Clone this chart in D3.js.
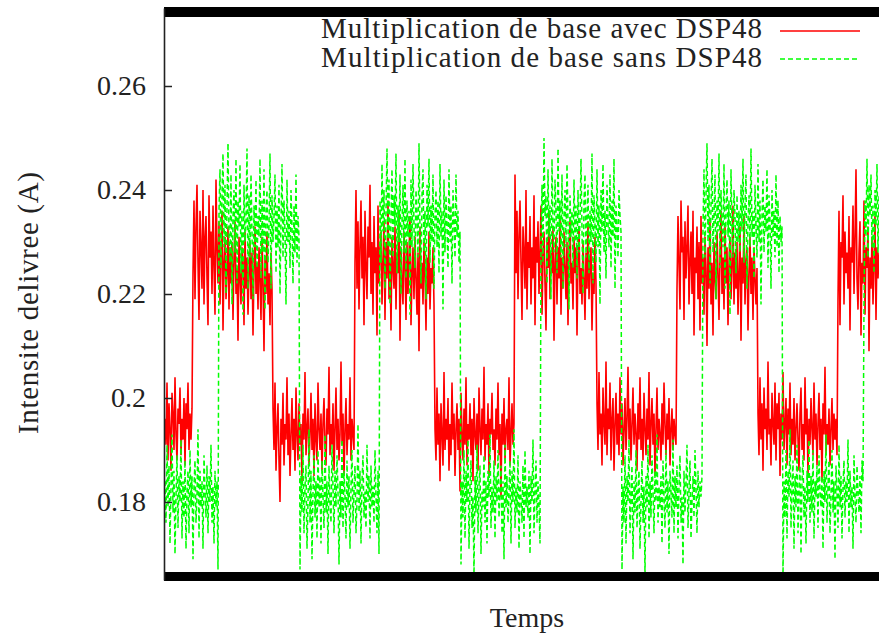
<!DOCTYPE html>
<html><head><meta charset="utf-8">
<script src="https://cdn.jsdelivr.net/npm/d3@7/dist/d3.min.js"></script>
<style>body{margin:0;background:#fff}svg{display:block}</style>
</head><body>
<svg id="chart" width="879" height="637"></svg>
<script>
// ---- data (current in mA, one value per sample) ----
const seriesNames = ["Multiplication de base avec DSP48", "Multiplication de base sans DSP48"];
const xLabel = "Temps";
const yLabel = "Intensite delivree (A)";
const yTickValues = [0.18, 0.2, 0.22, 0.24, 0.26];

const avecDSP48 = [
196,191,203,188,199,194,186,201,197,190,204,193,188,198,195,202,189,196,192,200,
187,199,194,203,190,197,192,198,
224,238,219,233,241,226,215,236,229,221,240,218,231,235,223,214,239,227,232,220,
237,225,216,242,229,222,234,218,228,236,213,226,231,219,224,233,217,229,222,230,
215,227,234,220,225,211,231,223,218,229,226,214,232,221,227,216,224,230,219,228,
212,225,233,220,226,217,229,223,215,231,222,209,227,220,232,218,224,214,228,221,
198,190,203,186,194,199,188,180,196,191,201,187,195,192,204,189,197,185,193,200,
190,196,186,202,193,188,199,191,195,184,197,192,205,189,194,198,187,193,201,190,
196,185,199,192,188,203,194,190,197,186,195,200,191,187,198,193,206,189,195,191,
199,186,194,202,190,196,188,193,207,191,197,185,194,200,189,195,192,204,188,196,
193,190,
226,240,221,234,217,229,238,223,231,214,236,225,219,233,227,241,220,230,216,235,
224,229,212,237,222,228,232,218,226,234,215,230,223,238,219,227,213,231,225,221,
233,217,228,224,236,211,229,222,218,232,226,215,230,220,227,235,214,224,229,219,
231,223,216,228,209,233,221,226,218,230,224,213,227,220,232,217,225,222,229,218,
194,188,202,191,197,184,199,193,187,205,190,196,192,200,186,195,189,203,192,197,
185,194,199,190,196,182,201,193,188,198,191,204,187,195,192,199,189,196,184,200,
193,190,197,186,202,194,189,198,192,206,188,195,191,199,185,196,193,201,190,194,
187,198,192,203,189,195,181,197,191,200,188,194,196,190,204,187,193,199,191,195,
243,224,236,219,231,238,226,215,233,228,221,240,217,230,225,235,218,229,223,239,
214,231,226,234,220,228,237,216,227,232,222,213,230,225,236,219,228,224,233,211,
226,231,218,229,223,235,216,227,221,232,225,219,230,214,228,234,222,226,217,231,
224,229,212,227,233,220,225,218,230,223,215,228,221,234,219,226,229,213,224,220,
231,222,
199,190,205,193,197,187,202,195,191,207,189,198,194,203,188,196,200,186,195,201,
191,197,189,204,193,199,187,194,200,190,196,206,192,198,188,195,202,191,197,193,
186,199,192,204,190,196,188,201,194,189,198,192,205,187,195,200,191,197,185,194,
202,190,196,193,188,199,191,203,195,189,197,192,200,187,194,198,190,196,193,191,
221,235,226,217,238,228,231,215,234,223,229,237,218,226,232,220,236,212,227,224,
233,219,230,213,235,222,227,216,231,225,210,229,221,234,218,226,212,230,223,219,
232,224,215,228,236,220,227,217,233,222,229,214,226,231,219,225,237,218,228,221,
230,216,224,233,211,227,222,235,218,226,229,213,224,231,220,227,215,229,223,218,
225,
197,189,204,192,199,186,202,194,198,190,207,193,196,187,201,195,191,203,188,199,
194,201,185,197,192,205,190,195,200,187,198,193,203,189,196,191,200,188,194,199,
192,186,197,202,190,195,188,204,193,198,185,196,191,200,194,189,203,192,197,187,
195,201,190,196,184,199,193,206,189,195,191,198,187,194,200,190,197,192,196,189,
219,236,214,230,227,239,218,232,224,228,221,235,213,229,226,237,220,231,244,223,
217,228,234,212,226,222,238,216,229,225,233,209,227,221,231,218,226,235,215,229,
223,228
];

const sansDSP48 = [
184,176,191,179,187,172,183,193,178,186,170,181,189,175,185,180,192,173,184,177,
188,171,182,186,174,190,179,185,169,183,188,176,181,194,173,186,179,184,171,189,
182,177,187,174,185,180,191,176,183,172,186,179,184,167,
236,244,225,239,247,229,241,220,237,249,231,226,243,218,235,240,228,246,222,238,
233,245,224,236,216,241,230,234,248,221,239,227,243,232,219,237,229,242,225,235,
231,246,223,238,228,244,217,236,240,226,233,247,221,239,230,235,243,224,237,229,
241,220,234,245,227,238,232,218,242,230,236,225,240,233,222,237,228,243,226,235,
231,
167,185,178,191,174,183,187,171,180,194,176,186,169,182,189,177,184,173,190,179,
185,172,188,181,175,193,178,184,170,187,180,176,191,183,174,186,179,189,182,168,
184,177,192,175,186,181,173,188,179,185,171,183,190,176,182,187,174,180,195,178,
186,172,184,189,177,182,175,191,180,185,173,187,179,183,176,190,181,174,186,170,
238,226,245,232,240,221,236,248,229,242,218,235,244,227,239,233,247,224,237,230,
243,220,234,241,228,246,223,238,231,236,216,242,229,245,233,225,240,235,227,249,
232,222,239,244,228,236,219,241,233,246,226,237,230,243,221,235,240,229,238,224,
245,231,236,217,242,228,239,233,225,244,230,237,222,240,234,227,243,231,236,226,
232,
168,184,177,190,173,186,180,192,171,183,188,175,181,166,185,178,191,174,183,187,
170,182,179,189,176,184,172,186,181,193,175,183,178,188,173,185,180,190,177,182,
187,174,184,169,191,179,185,176,182,188,172,186,180,194,175,183,178,189,171,184,
181,176,187,173,190,179,183,177,186,170,185,180,192,174,182,188,176,184,179,172,
230,241,226,250,235,239,222,244,231,237,219,246,233,228,242,236,224,248,232,238,
227,243,221,235,240,229,245,234,217,239,231,236,225,242,230,237,223,240,228,234,
246,232,220,238,243,227,235,241,224,236,230,247,222,239,233,226,244,229,237,218,
240,232,245,228,236,223,241,234,229,243,225,238,231,246,221,237,233,227,240,235,
232,
167,183,176,189,172,185,180,192,174,181,187,169,184,178,190,175,182,186,171,180,
188,176,183,166,185,179,191,173,184,177,189,182,174,186,180,193,176,183,179,185,
172,188,181,175,190,178,184,170,186,182,177,192,174,185,179,187,173,183,189,176,
181,168,186,178,184,191,175,182,188,173,180,185,177,190,183,174,186,179,184,181,
185,
233,244,227,239,249,230,241,222,237,246,228,235,243,219,238,232,247,225,240,234,
229,245,221,236,242,231,238,216,244,233,227,240,235,224,239,230,236,228,241,232,
246,226,237,243,221,234,239,229,248,231,236,223,241,233,227,245,230,238,218,235,
242,228,237,232,244,225,239,234,221,240,231,236,227,243,229,238,224,235,230,233,
166,184,177,190,173,186,181,194,175,183,188,171,185,179,191,174,182,187,170,184,
189,177,183,172,186,180,192,176,185,178,190,173,184,181,187,175,189,182,179,185,
171,186,180,193,176,183,188,174,181,190,178,184,169,187,182,175,191,179,185,173,
183,188,177,184,180,192,174,186,179,183,171,189,181,176,187,182,178,185,174,188,
184,
218,238,231,246,227,241,235,243,229,237,224,240,233,245,228,239
];

// ---- layout & style ----
const colors = ["#ff0000", "#00ff00"];
const FONT = "'Liberation Serif', 'DejaVu Serif', serif";
const plot = {left: 164, right: 879, top: 8, bottom: 580};

const svg = d3.select("#chart");
const n = Math.max(avecDSP48.length, sansDSP48.length);
const x = d3.scaleLinear().domain([0, n - 1]).range([plot.left + 1, plot.right]);
const y = d3.scaleLinear().domain([0.165, 0.275]).range([plot.bottom, plot.top]);

svg.append("defs").append("clipPath").attr("id", "clip")
  .append("rect").attr("x", plot.left).attr("y", plot.top)
  .attr("width", plot.right - plot.left).attr("height", plot.bottom - plot.top);

const line = d3.line().x((d, i) => x(i)).y(d => y(d / 1000));

const g = svg.append("g").attr("clip-path", "url(#clip)");
g.append("path").datum(avecDSP48).attr("d", line)
  .attr("fill", "none").attr("stroke", colors[0]).attr("stroke-width", 1.6);
g.append("path").datum(sansDSP48).attr("d", line)
  .attr("fill", "none").attr("stroke", colors[1]).attr("stroke-width", 1.5)
  .attr("stroke-dasharray", "5,3");

// dense x tics rendered as thick bars (top & bottom)
svg.append("rect").attr("x", plot.left).attr("y", plot.top - 1)
  .attr("width", plot.right - plot.left).attr("height", 10).attr("fill", "#000");
svg.append("rect").attr("x", plot.left).attr("y", plot.bottom - 8)
  .attr("width", plot.right - plot.left).attr("height", 9).attr("fill", "#000");

// y axis
const yAxis = d3.axisLeft(y).tickValues(yTickValues).tickSizeInner(-8).tickSizeOuter(0)
  .tickPadding(18).tickFormat(d => String(d));
const ya = svg.append("g").attr("transform", `translate(${plot.left},0)`).call(yAxis);
ya.select(".domain").attr("stroke", "#222").attr("stroke-width", 1.6);
ya.selectAll(".tick line").attr("stroke", "#222").attr("stroke-width", 1.5);
ya.selectAll(".tick text").style("font-family", FONT).style("font-size", "28px").style("fill", "#222");

// axis titles
svg.append("text").attr("x", 527).attr("y", 627).attr("text-anchor", "middle")
  .style("font-family", FONT).style("font-size", "28px").style("fill", "#222").text(xLabel);
svg.append("text").attr("transform", "translate(38,303) rotate(-90)").attr("text-anchor", "middle")
  .style("font-family", FONT).style("font-size", "29px").style("fill", "#222")
  .attr("textLength", 262).attr("lengthAdjust", "spacing").text(yLabel);

// legend
const legendY = [38, 67];
const legendLineY = [31, 59];
seriesNames.forEach((name, k) => {
  svg.append("text").attr("x", 762).attr("y", legendY[k]).attr("text-anchor", "end")
    .style("font-family", FONT).style("font-size", "29px").style("fill", "#222")
    .attr("textLength", 441).attr("lengthAdjust", "spacing").text(name);
  const ln = svg.append("line").attr("x1", 780).attr("x2", 860)
    .attr("y1", legendLineY[k]).attr("y2", legendLineY[k])
    .attr("stroke", colors[k]).attr("stroke-width", 1.4);
  if (k === 1) ln.attr("stroke-dasharray", "5,3");
});
</script>
</body></html>
